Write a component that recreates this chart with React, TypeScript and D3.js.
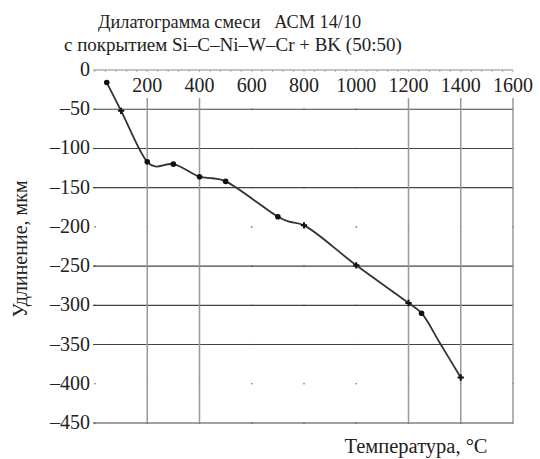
import * as d3 from 'd3';

// dilatogram: temperature (°C) vs elongation (µm)
const temps = [45, 100, 200, 230, 300, 400, 450, 500, 700, 740, 800, 1000, 1200, 1250, 1320, 1400];
const elong = [-16, -52, -117, -123, -120, -136, -138, -142, -187, -193, -198, -249, -297, -310, -348, -392];
const marker = ['dot', 'cross', 'dot', '', 'dot', 'dot', '', 'dot', 'dot', '', 'cross', 'cross', 'cross', 'dot', '', 'cross'];

const xTicks = [200, 400, 600, 800, 1000, 1200, 1400, 1600];
const yTicks = [0, -50, -100, -150, -200, -250, -300, -350, -400, -450];
const solidX = [200, 400, 1200, 1400, 1600];
const solidY = [-50, -100, -150, -250, -300, -350, -450];

const titleLines = ['Дилатограмма смеси   АСМ 14/10', 'с покрытием Si–C–Ni–W–Cr + BK (50:50)'];
const xLabel = 'Температура, °C';
const yLabel = 'Удлинение, мкм';

const W = 540;
const H = 459;
const FONT = '"Liberation Serif", "Times New Roman", serif';

export default function App() {
	const x = d3.scaleLinear().domain([0, 1600]).range([95, 513]);
	const y = d3.scaleLinear().domain([0, -450]).range([70, 423]);

	const pts = temps.map((t, i) => ({ t, v: elong[i], m: marker[i] }));
	const line = d3
		.line<{ t: number; v: number }>()
		.x((d) => x(d.t))
		.y((d) => y(d.v))
		.curve(d3.curveCatmullRom.alpha(0.5));

	const gridTop = y(0) + 28;
	const minor = d3.range(0, 1601, 40);

	return (
		<svg
			width={W}
			height={H}
			style={{ position: 'absolute', left: 0, top: 0, background: '#fff' }}
			fontFamily={FONT}>
			{/* title */}
			<text x={98} y={28} fontSize={18.3} fill='#222' style={{ whiteSpace: 'pre' }}>
				{titleLines[0]}
			</text>
			<text x={64} y={51} fontSize={19} fill='#222'>
				{titleLines[1]}
			</text>

			{/* top zero line with minor ticks */}
			<line x1={x(0) - 2} x2={x(1600)} y1={y(0)} y2={y(0)} stroke='#888' strokeWidth={1} />
			{minor.map((m) => (
				<line key={m} x1={x(m)} x2={x(m)} y1={y(0)} y2={y(0) + 2} stroke='#999' strokeWidth={0.8} />
			))}

			{/* dotted intersections for faded grid */}
			{[0, ...xTicks].map((t) =>
				yTicks.slice(1).map((v) => (
					<circle key={t + '_' + v} cx={x(t)} cy={y(v)} r={0.8} fill='#666' />
				))
			)}

			{/* horizontal grid */}
			{solidY.map((v) => (
				<line key={v} x1={x(0) - 2} x2={x(1600)} y1={y(v)} y2={y(v)} stroke='#444' strokeWidth={1.1} />
			))}

			{/* vertical grid */}
			{solidX.map((t) => (
				<line key={t} x1={x(t)} x2={x(t)} y1={gridTop} y2={y(-450)} stroke='#999' strokeWidth={1.5} />
			))}

			{/* x tick labels */}
			{xTicks.map((t) => (
				<text key={t} x={x(t)} y={y(0) + 22} fontSize={20} textAnchor='middle' fill='#222'>
					{t}
				</text>
			))}

			{/* y tick labels */}
			{yTicks.map((v) => (
				<text key={v} x={x(0) - 5} y={y(v) + 6} fontSize={20} textAnchor='end' fill='#222'>
					{v === 0 ? '0' : '–' + Math.abs(v)}
				</text>
			))}

			{/* curve */}
			<path d={line(pts) || ''} fill='none' stroke='#333' strokeWidth={1.8} />
			{pts
				.filter((d) => d.m)
				.map((d, i) =>
					d.m === 'dot' ? (
						<circle key={i} cx={x(d.t)} cy={y(d.v)} r={2.8} fill='#111' />
					) : (
						<path
							key={i}
							transform={`translate(${x(d.t)},${y(d.v)})`}
							d={d3.symbol(d3.symbolCross, 22)() || ''}
							fill='#111'
						/>
					)
				)}

			{/* axis titles */}
			<text x={416} y={453} fontSize={20.5} textAnchor='middle' fill='#222'>
				{xLabel}
			</text>
			<text transform='translate(27,249) rotate(-90)' fontSize={20} textAnchor='middle' fill='#222'>
				{yLabel}
			</text>
		</svg>
	);
}
